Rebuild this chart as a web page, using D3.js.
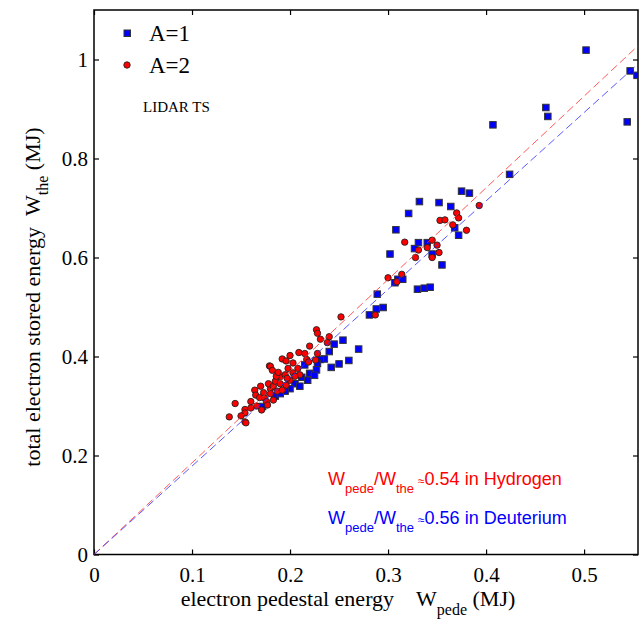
<!DOCTYPE html>
<html>
<head>
<meta charset="utf-8">
<script src="https://cdn.jsdelivr.net/npm/d3@7"></script>
<style>
  body { margin: 0; background: #fff; }
  svg { display: block; }
</style>
</head>
<body>
<div id="main"></div>
<script>
// A=1 (deuterium, blue squares): [W_pede, W_the] in MJ
var a1 = [
    [0.502, 1.019], [0.547, 0.977], [0.554, 0.968], [0.544, 0.874], [0.461, 0.903],
    [0.463, 0.885], [0.407, 0.868], [0.424, 0.768], [0.375, 0.734], [0.383, 0.730],
    [0.332, 0.713], [0.352, 0.711], [0.364, 0.703], [0.321, 0.689], [0.308, 0.656],
    [0.331, 0.630], [0.340, 0.630], [0.327, 0.618], [0.302, 0.607], [0.345, 0.607],
    [0.355, 0.585], [0.368, 0.660], [0.372, 0.645], [0.307, 0.549], [0.310, 0.556],
    [0.315, 0.556], [0.330, 0.536], [0.337, 0.538], [0.343, 0.540], [0.289, 0.526],
    [0.295, 0.499], [0.288, 0.496], [0.281, 0.484], [0.254, 0.433], [0.270, 0.415],
    [0.260, 0.392], [0.245, 0.425], [0.240, 0.410], [0.235, 0.395], [0.231, 0.394],
    [0.228, 0.386], [0.227, 0.373], [0.220, 0.366], [0.215, 0.383], [0.212, 0.358],
    [0.250, 0.385], [0.242, 0.378], [0.205, 0.345], [0.200, 0.335], [0.195, 0.330],
    [0.185, 0.320], [0.172, 0.299], [0.210, 0.340], [0.218, 0.352], [0.225, 0.362],
    [0.190, 0.325]
];

// A=2 (hydrogen, red circles)
var a2 = [
    [0.393, 0.705], [0.317, 0.631], [0.331, 0.615], [0.328, 0.600], [0.300, 0.559],
    [0.309, 0.551], [0.314, 0.566], [0.287, 0.484], [0.252, 0.480], [0.227, 0.454],
    [0.228, 0.447], [0.231, 0.435], [0.240, 0.440], [0.238, 0.428], [0.353, 0.675],
    [0.358, 0.676], [0.370, 0.690], [0.372, 0.680], [0.380, 0.655], [0.366, 0.666],
    [0.345, 0.635], [0.350, 0.625], [0.340, 0.620], [0.345, 0.600], [0.352, 0.610],
    [0.138, 0.278], [0.144, 0.305], [0.154, 0.293], [0.154, 0.286], [0.154, 0.268],
    [0.155, 0.266], [0.160, 0.309], [0.164, 0.332], [0.165, 0.322], [0.169, 0.317],
    [0.171, 0.292], [0.173, 0.327], [0.174, 0.316], [0.176, 0.309], [0.179, 0.381],
    [0.180, 0.380], [0.192, 0.395], [0.196, 0.391], [0.200, 0.402], [0.203, 0.387],
    [0.209, 0.408], [0.215, 0.406], [0.220, 0.421], [0.217, 0.394], [0.219, 0.389],
    [0.198, 0.376], [0.203, 0.367], [0.208, 0.376], [0.210, 0.363], [0.190, 0.359],
    [0.195, 0.363], [0.228, 0.406], [0.226, 0.393], [0.180, 0.335], [0.178, 0.345],
    [0.183, 0.340], [0.185, 0.350], [0.190, 0.345], [0.187, 0.330], [0.180, 0.325],
    [0.183, 0.312], [0.177, 0.302], [0.192, 0.332], [0.196, 0.342], [0.200, 0.352],
    [0.197, 0.356], [0.205, 0.360], [0.186, 0.360], [0.166, 0.300], [0.170, 0.340],
    [0.182, 0.372], [0.188, 0.368], [0.160, 0.296], [0.150, 0.280]
];

// fitted ratios W_pede / W_the
var ratioH = 0.54;
var ratioD = 0.56;

var xTicks = [0, 0.1, 0.2, 0.3, 0.4, 0.5];
var yTicks = [0, 0.2, 0.4, 0.6, 0.8, 1];
var xMax = 0.555;
var yMax = 1.1;

var ctx = {
    w: 642,
    h: 623,
    left: 94,
    right: 638,
    top: 10,
    bottom: 554.5,
};

var serif = "'Liberation Serif', 'Times New Roman', serif";
var sans = "'Liberation Sans', Arial, sans-serif";

var svg = d3.select("#main").append("svg")
    .attr("width", ctx.w)
    .attr("height", ctx.h);

var x = d3.scaleLinear().domain([0, xMax]).range([ctx.left, ctx.right]);
var y = d3.scaleLinear().domain([0, yMax]).range([ctx.bottom, ctx.top]);

svg.append("defs").append("clipPath").attr("id", "clip")
    .append("rect")
    .attr("x", ctx.left).attr("y", ctx.top)
    .attr("width", ctx.right - ctx.left).attr("height", ctx.bottom - ctx.top);

// axes, ticks pointing inward on all four sides
function styleAxis(g, size) {
    g.select(".domain").remove();
    g.selectAll(".tick line").attr("stroke", "#000").attr("stroke-width", 1.2);
    g.selectAll(".tick text")
        .attr("fill", "#000")
        .style("font-family", serif)
        .style("font-size", size + "px");
}

svg.append("g")
    .attr("transform", "translate(0," + ctx.bottom + ")")
    .call(d3.axisBottom(x).tickValues(xTicks).tickSizeInner(-5).tickSizeOuter(0)
        .tickPadding(13).tickFormat(d3.format("")))
    .call(function (g) { styleAxis(g, 21); });

svg.append("g")
    .attr("transform", "translate(0," + ctx.top + ")")
    .call(d3.axisTop(x).tickValues(xTicks).tickSizeInner(-5).tickSizeOuter(0).tickFormat(""))
    .call(function (g) { styleAxis(g, 21); });

svg.append("g")
    .attr("transform", "translate(" + ctx.left + ",0)")
    .call(d3.axisLeft(y).tickValues(yTicks).tickSizeInner(-5).tickSizeOuter(0)
        .tickPadding(6).tickFormat(d3.format("")))
    .call(function (g) { styleAxis(g, 21); });

svg.append("g")
    .attr("transform", "translate(" + ctx.right + ",0)")
    .call(d3.axisRight(y).tickValues(yTicks).tickSizeInner(-5).tickSizeOuter(0).tickFormat(""))
    .call(function (g) { styleAxis(g, 21); });

svg.append("rect")
    .attr("x", ctx.left).attr("y", ctx.top)
    .attr("width", ctx.right - ctx.left).attr("height", ctx.bottom - ctx.top)
    .attr("fill", "none").attr("stroke", "#000").attr("stroke-width", 1.5);

// markers
var plot = svg.append("g").attr("clip-path", "url(#clip)");
var sq = 6.5;

plot.append("g").selectAll("rect")
    .data(a1)
    .enter()
    .append("rect")
    .attr("x", function (d) { return x(d[0]) - sq / 2; })
    .attr("y", function (d) { return y(d[1]) - sq / 2; })
    .attr("width", sq)
    .attr("height", sq)
    .attr("fill", "#0000ff")
    .attr("stroke", "#333")
    .attr("stroke-width", 1);

plot.append("g").selectAll("circle")
    .data(a2)
    .enter()
    .append("circle")
    .attr("cx", function (d) { return x(d[0]); })
    .attr("cy", function (d) { return y(d[1]); })
    .attr("r", 3.2)
    .attr("fill", "#ff0000")
    .attr("stroke", "#222")
    .attr("stroke-width", 0.9);

// fit lines through the origin
var fits = [
    { ratio: ratioH, color: "#ff3030" },
    { ratio: ratioD, color: "#3030ff" },
];
plot.append("g").selectAll("line")
    .data(fits)
    .enter()
    .append("line")
    .attr("x1", x(0))
    .attr("y1", y(0))
    .attr("x2", x(xMax))
    .attr("y2", function (d) { return y(xMax / d.ratio); })
    .attr("stroke", function (d) { return d.color; })
    .attr("stroke-width", 1)
    .attr("stroke-opacity", 0.8)
    .attr("stroke-dasharray", "8,4");

// legend
var legend = svg.append("g");
legend.append("rect")
    .attr("x", 124).attr("y", 30).attr("width", sq).attr("height", sq)
    .attr("fill", "#0000ff").attr("stroke", "#333").attr("stroke-width", 1);
legend.append("circle")
    .attr("cx", 127).attr("cy", 65).attr("r", 3.2)
    .attr("fill", "#ff0000").attr("stroke", "#222").attr("stroke-width", 0.9);
legend.selectAll("text")
    .data(["A=1", "A=2"])
    .enter()
    .append("text")
    .attr("x", 149)
    .attr("y", function (d, i) { return 41 + i * 32; })
    .style("font-family", serif)
    .style("font-size", "23px")
    .text(function (d) { return d; });

svg.append("text")
    .attr("x", 143).attr("y", 112)
    .style("font-family", serif)
    .style("font-size", "15px")
    .text("LIDAR TS");

// ratio annotations
var notes = [
    { ratio: ratioH, gas: "Hydrogen", color: "#ff0000" },
    { ratio: ratioD, gas: "Deuterium", color: "#0000ff" },
];
notes.forEach(function (n, i) {
    var t = svg.append("text")
        .attr("x", 328)
        .attr("y", 485 + i * 39)
        .attr("fill", n.color)
        .style("font-family", sans)
        .style("font-size", "18px");
    t.append("tspan").text("W");
    t.append("tspan").attr("dy", 8).style("font-size", "13px").text("pede");
    t.append("tspan").attr("dy", -8).text("/W");
    t.append("tspan").attr("dy", 8).style("font-size", "13px").text("the");
    t.append("tspan").attr("dy", -8).attr("dx", 4).style("font-size", "12px").text("\u2248");
    t.append("tspan").text(n.ratio.toFixed(2) + " in " + n.gas);
});

// axis titles
var xt = svg.append("text")
    .attr("x", 348)
    .attr("y", 606)
    .attr("text-anchor", "middle")
    .style("font-family", serif)
    .style("font-size", "22px");
xt.append("tspan").text("electron pedestal energy\u00a0\u00a0\u00a0\u00a0W");
xt.append("tspan").attr("dy", 9).style("font-size", "16px").text("pede");
xt.append("tspan").attr("dy", -9).text(" (MJ)");

var yt = svg.append("text")
    .attr("transform", "translate(40,297) rotate(-90)")
    .attr("text-anchor", "middle")
    .style("font-family", serif)
    .style("font-size", "22px");
yt.append("tspan").text("total electron stored energy\u00a0\u00a0W");
yt.append("tspan").attr("dy", 8).style("font-size", "16px").text("the");
yt.append("tspan").attr("dy", -8).text(" (MJ)");
</script>
</body>
</html>
